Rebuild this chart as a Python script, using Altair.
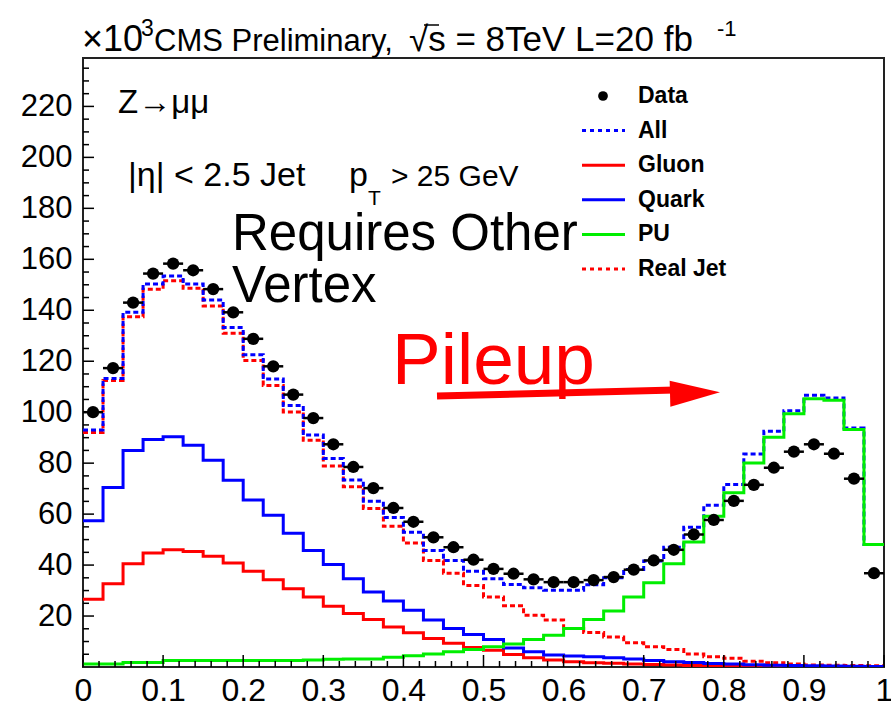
import altair as alt
import pandas as pd

# ---- histogram contents (x 10^3 entries per bin), 40 bins on [0, 1] ----
N_BINS = 40

data_counts = [100.0, 117.3, 143.0, 154.4, 158.3, 155.7, 148.3, 139.2, 128.8, 118.0,
               106.9, 97.7, 87.4, 78.5, 70.2, 62.4, 57.0, 50.9, 47.0, 42.1,
               38.5, 36.6, 34.4, 33.3, 33.3, 34.1, 35.3, 38.2, 41.8, 46.0,
               52.0, 57.7, 65.2, 71.5, 78.2, 84.5, 87.4, 83.7, 73.9, 36.8]

all_mc = [93.0, 113.2, 139.2, 150.3, 153.4, 150.3, 144.0, 133.2, 122.5, 113.0,
          102.6, 91.0, 81.8, 73.4, 65.0, 58.7, 52.9, 45.7, 41.8, 37.6,
          34.6, 32.4, 31.1, 30.1, 30.1, 32.3, 35.0, 38.3, 41.6, 47.0,
          54.8, 63.5, 71.6, 83.6, 92.5, 100.6, 106.6, 105.6, 93.8, 48.1]

gluon = [26.6, 32.7, 40.5, 44.7, 46.0, 45.3, 43.5, 40.8, 37.6, 34.2,
         30.7, 27.5, 23.8, 21.0, 18.6, 15.7, 13.4, 11.2, 9.3, 7.7,
         6.6, 4.9, 3.6, 2.7, 2.1, 1.7, 1.5, 1.2, 1.0, 0.8,
         0.6, 0.5, 0.4, 0.3, 0.25, 0.2, 0.15, 0.1, 0.1, 0.05]

quark = [57.4, 70.4, 85.0, 89.3, 90.4, 87.0, 81.1, 73.3, 65.5, 59.6,
         52.5, 45.7, 40.2, 34.6, 29.4, 25.9, 22.3, 18.4, 15.1, 12.8,
         10.8, 7.5, 6.0, 4.7, 4.3, 4.0, 3.6, 3.1, 2.6, 2.1,
         1.8, 1.4, 1.2, 0.9, 0.7, 0.6, 0.5, 0.4, 0.3, 0.2]

pileup = [1.2, 1.2, 1.8, 1.8, 2.6, 2.6, 2.6, 2.6, 2.6, 2.6,
          2.6, 2.7, 3.0, 3.1, 3.1, 3.8, 4.4, 5.1, 6.0, 6.9,
          7.9, 9.0, 10.8, 12.5, 15.1, 18.6, 22.0, 27.5, 33.1, 40.5,
          49.1, 59.2, 68.4, 80.1, 90.2, 99.4, 105.3, 104.7, 93.2, 48.1]

real_jet = [92.0, 112.4, 137.5, 148.2, 151.6, 148.6, 141.7, 131.0, 120.3, 110.5,
            100.1, 89.0, 78.9, 70.7, 62.2, 55.2, 48.7, 41.8, 36.8, 32.0,
            27.5, 24.0, 20.3, 18.4, 15.1, 13.5, 11.8, 9.5, 7.9, 6.9,
            5.1, 4.0, 3.4, 2.3, 1.7, 1.2, 0.8, 0.7, 0.6, 0.5]

legend_labels = ["Data", "All", "Gluon", "Quark", "PU", "Real Jet"]

x_major = [i / 10 for i in range(11)]
x_minor = [i / 50 for i in range(51) if i % 5 != 0]
y_major = list(range(20, 221, 20))
y_minor = [v for v in range(5, 236, 5) if v % 20 != 0]

# ---- geometry / style ----
W, H = 801, 609
FONT = "Liberation Sans, Arial, Helvetica"
RED, BLUE, GREEN = "#ff0000", "#0000ff", "#00ee00"

edges = [i / N_BINS for i in range(N_BINS + 1)]
x_scale = alt.Scale(domain=[0, 1], nice=False, zero=False)
y_scale = alt.Scale(domain=[0, 239], nice=False, zero=False)

# one axis definition shared by every layer so the merged axes stay visible
X_AXIS = alt.Axis(values=x_major, format=".1~f", labelFont=FONT, labelFontSize=32,
                  labelColor="black", labelPadding=8, ticks=False, domain=False,
                  grid=False, title=None, labelOverlap=False, labelFlush=False)
Y_AXIS = alt.Axis(values=y_major, labelFont=FONT, labelFontSize=31, labelColor="black",
                  labelPadding=11, ticks=False, domain=False, grid=False, title=None,
                  labelOverlap=False)


def X(field):
    return alt.X(field, scale=x_scale, axis=X_AXIS)


def Y(field):
    return alt.Y(field, scale=y_scale, axis=Y_AXIS)


def step_hist(values, color, dash=None):
    df = pd.DataFrame({"x": edges, "y": values + values[-1:]})
    props = dict(color=color, strokeWidth=3, interpolate="step-after", clip=True)
    if dash:
        props["strokeDash"] = dash
    return alt.Chart(df).mark_line(**props).encode(x=X("x:Q"), y=Y("y:Q"))


def text_at(txt, x, y, size, color="black", weight="normal"):
    return alt.Chart(pd.DataFrame({"t": [txt]})).mark_text(
        align="left", baseline="alphabetic", font=FONT, fontSize=size,
        fontWeight=weight, color=color,
    ).encode(x=alt.value(x), y=alt.value(y), text="t:N")


# inward axis ticks
def y_ticks(vals, length):
    return alt.Chart(pd.DataFrame({"v": vals})).mark_rule(color="black", strokeWidth=1.5).encode(
        y=Y("v:Q"), x=alt.value(0), x2=alt.value(length))


def x_ticks(vals, length):
    return alt.Chart(pd.DataFrame({"v": vals})).mark_rule(color="black", strokeWidth=1.5).encode(
        x=X("v:Q"), y=alt.value(H), y2=alt.value(H - length))


hists = [
    step_hist(real_jet, RED, dash=[5, 3]),
    step_hist(all_mc, BLUE, dash=[5, 3]),
    step_hist(gluon, RED),
    step_hist(quark, BLUE),
    step_hist(pileup, GREEN),
]

# data points with bin-width horizontal bars
pts = pd.DataFrame({
    "lo": edges[:-1],
    "hi": edges[1:],
    "c": [(a + b) / 2 for a, b in zip(edges[:-1], edges[1:])],
    "y": data_counts,
})
data_bars = alt.Chart(pts).mark_rule(color="black", strokeWidth=2.5).encode(
    x=X("lo:Q"), x2="hi:Q", y=Y("y:Q"))
data_dots = alt.Chart(pts).mark_circle(size=150, color="black", opacity=1).encode(
    x=X("c:Q"), y=Y("y:Q"))

# legend (top right)
LEG_TOP, LEG_STEP = 38, 34.6
leg = pd.DataFrame({
    "label": legend_labels,
    "py": [LEG_TOP + i * LEG_STEP for i in range(len(legend_labels))],
    "col": ["black", BLUE, RED, BLUE, GREEN, RED],
    "style": ["dot", "dash", "solid", "solid", "solid", "dash"],
})
leg_text = alt.Chart(leg).mark_text(
    align="left", baseline="middle", font=FONT, fontWeight="bold", fontSize=23,
    color="black").encode(x=alt.value(555), y=alt.Y("py:Q", scale=None), text="label:N")
leg_solid = alt.Chart(leg).transform_filter("datum.style == 'solid'").mark_rule(
    strokeWidth=3).encode(x=alt.value(499), x2=alt.value(542),
                          y=alt.Y("py:Q", scale=None), color=alt.Color("col:N", scale=None))
leg_dash = alt.Chart(leg).transform_filter("datum.style == 'dash'").mark_rule(
    strokeWidth=3, strokeDash=[4, 4]).encode(x=alt.value(499), x2=alt.value(542),
                                             y=alt.Y("py:Q", scale=None),
                                             color=alt.Color("col:N", scale=None))
leg_dot = alt.Chart(leg).transform_filter("datum.style == 'dot'").mark_circle(
    size=95, opacity=1, color="black").encode(x=alt.value(520), y=alt.Y("py:Q", scale=None))

# pileup arrow
one = pd.DataFrame({"a": [0]})
arrow_shaft = alt.Chart(one).mark_rule(color=RED, strokeWidth=7).encode(
    x=alt.value(354), y=alt.value(338), x2=alt.value(592), y2=alt.value(332))
arrow_head = alt.Chart(one).mark_point(
    shape="M -1 -0.52 L 1 0 L -1 0.52 Z", filled=True, color=RED, opacity=1,
    size=2500, angle=358.5).encode(x=alt.value(612), y=alt.value(335))

# overline of the square-root sign in the header
sqrt_bar = alt.Chart(one).mark_rule(color="black", strokeWidth=1.5).encode(
    x=alt.value(341), x2=alt.value(356), y=alt.value(-33))

annotations = [
    # header above the frame
    text_at("\u00d710", -1, -7, 36),
    text_at("3", 58, -22, 23),
    text_at("CMS Preliminary,", 71, -7, 31),
    text_at("\u221as = 8TeV L=20 fb", 326, -7, 35),
    text_at("-1", 634, -22, 22),
    # inside the frame
    text_at("Z\u2192\u03bc\u03bc", 35, 55, 33),
    text_at("|\u03b7| < 2.5 Jet", 45, 128, 34),
    text_at("p", 266, 128, 34),
    text_at("T", 285, 147, 21),
    text_at("> 25 GeV", 308, 128, 30),
    text_at("Requires Other", 149, 192, 51),
    text_at("Vertex", 149, 244, 51),
    text_at("Pileup", 309, 326, 73, color=RED),
]

chart = alt.layer(
    *hists,
    data_bars, data_dots,
    y_ticks(y_minor, 6), y_ticks(y_major, 11),
    x_ticks(x_minor, 6), x_ticks(x_major, 12),
    leg_solid, leg_dash, leg_dot, leg_text,
    arrow_shaft, arrow_head, sqrt_bar,
    *annotations,
).properties(
    width=W, height=H,
    padding={"left": 83, "top": 58, "right": 7, "bottom": 45},
    autosize=alt.AutoSizeParams(type="none"),
    background="white",
).configure_view(stroke="#222222", strokeWidth=2)

chart.save("out.html", embed_options={"renderer": "svg", "actions": False})
